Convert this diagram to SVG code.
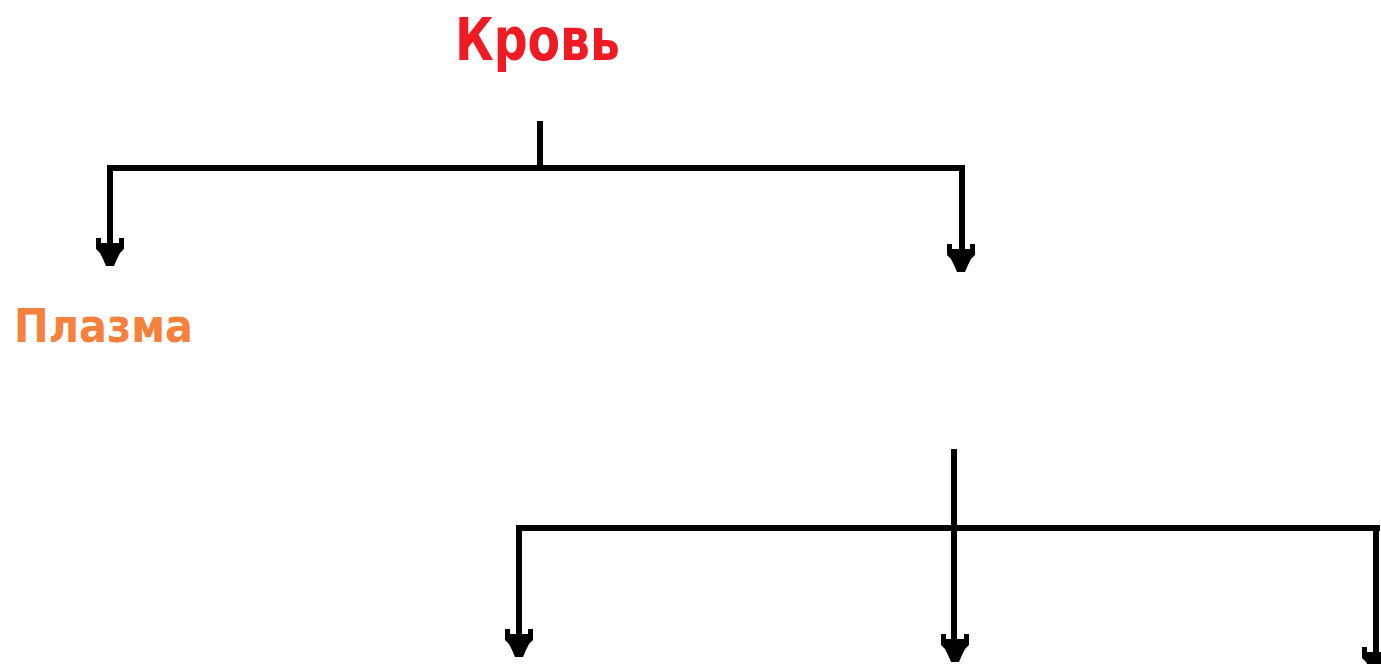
<svg xmlns="http://www.w3.org/2000/svg" width="1381" height="664" viewBox="0 0 1381 664">
<style>
.ln{stroke:#000;stroke-width:6;fill:none;stroke-linecap:square}
.t{font-family:"Comic Sans MS","DejaVu Sans",sans-serif;font-weight:bold}
</style>
<defs>
<path id="ah" d="M-14,-28 L-9,-28 L-9,-23 L9,-23 L9,-28 L14,-28 L14,-17 L10,-13 L7,-7 L4,0 L-4,0 L-7,-7 L-10,-13 L-14,-17 Z" fill="#000"/>
</defs>
<rect width="1381" height="664" fill="#fff"/>
<g id="krov"><text class="t" x="455" y="60" font-size="58" fill="#EE1A24" textLength="165" lengthAdjust="spacingAndGlyphs">Кровь</text></g>
<g id="plazma"><text class="t" x="14" y="342" font-size="46" fill="#F5813D" textLength="179" lengthAdjust="spacingAndGlyphs">Плазма</text></g>
<g id="connectors">
<path class="ln" d="M540,124 V168 M110,168 H962 M110,168 V250 M962,168 V255"/>
<use href="#ah" x="110" y="266"/>
<use href="#ah" x="961" y="272"/>
<path class="ln" d="M954,452 V648 M519,528 H1377 M519,528 V642 M1376,528 V664"/>
<use href="#ah" x="519" y="657"/>
<use href="#ah" x="955" y="662"/>
<use href="#ah" x="1376" y="675"/>
</g>
</svg>
